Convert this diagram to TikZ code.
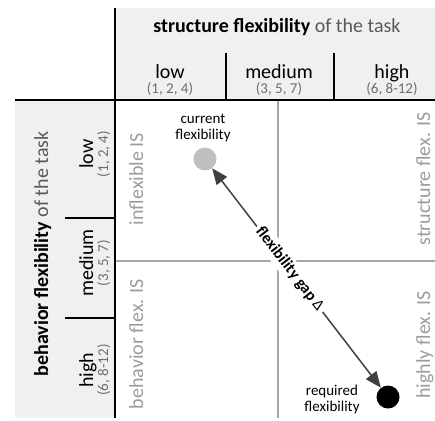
\documentclass[tikz,border=0pt]{standalone}
\usepackage{fontspec}
\setmainfont{Carlito}
\usepackage{tikz}
\usetikzlibrary{arrows.meta}
\definecolor{headbg}{HTML}{F0F0F0}
\definecolor{gridgray}{HTML}{A6A6A6}
\definecolor{labelgray}{HTML}{9C9C9C}
\definecolor{subgray}{HTML}{595959}
\definecolor{numgray}{HTML}{6E6E6E}
\definecolor{arrowgray}{HTML}{404040}
\definecolor{dotgray}{HTML}{BFBFBF}
\tikzstyle{divline} = [line width=1.5pt,black]
\tikzstyle{gridline} = [line width=1.3pt,gridgray]
\tikzstyle{bigtext} = [inner sep=0pt,anchor=base,font=\fontsize{20}{24}\selectfont]
\tikzstyle{numtext} = [inner sep=0pt,anchor=base,text=numgray,font=\fontsize{15}{18}\selectfont]
\tikzstyle{celltext} = [inner sep=0pt,anchor=base,rotate=90,text=labelgray,font=\fontsize{20}{24}\selectfont]
\tikzstyle{smalltext} = [align=center,inner sep=0pt,font=\fontsize{15}{16}\selectfont]
\tikzstyle{dot} = [circle,minimum size=23pt,inner sep=0pt]
\tikzstyle{gaparrow} = [line width=1.5pt,arrowgray,{Triangle[length=16pt,width=13pt]}-{Triangle[length=16pt,width=13pt]}]

\begin{document}
\begin{tikzpicture}[x=1pt,y=-1pt]
\useasboundingbox (0,0) rectangle (435,420);

% header backgrounds
\fill[headbg] (115,8) rectangle (435,100);
\fill[headbg] (15,100) rectangle (115,418);

% inner grid
\draw[gridline] (278,100) -- (278,418);
\draw[gridline] (115,261) -- (435,261);

% table frame
\draw[divline] (115,8) -- (115,418);
\draw[divline] (15,100) -- (435,100);
\foreach \x in {226,334}
{
 \draw[divline] (\x,53) -- (\x,100);
}
\foreach \y in {218,318}
{
 \draw[divline] (65,\y) -- (115,\y);
}

% titles
\node[bigtext] (stitle) at (277,33) {\textbf{structure flexibility} \textcolor{subgray}{of the task}};
\node[bigtext,rotate=90] (btitle) at (48,254) {\textbf{behavior flexibility} \textcolor{subgray}{of the task}};

% column and row heads
\foreach \name/\nums/\x in {low/{(1, 2, 4)}/170,medium/{(3, 5, 7)}/279,high/{(6, 8-12)}/392}
{
 \node[bigtext] (col\name) at (\x,78) {\name};
 \node[numtext] (colnum\name) at (\x,93) {\nums};
}
\foreach \name/\nums/\y in {low/{(1, 2, 4)}/154,medium/{(3, 5, 7)}/263,high/{(6, 8-12)}/370}
{
 \node[bigtext,rotate=90] (row\name) at (93,\y) {\name};
 \node[numtext,rotate=90] (rownum\name) at (108,\y) {\nums};
}

% cell labels
\node[celltext] (inflex) at (143,179) {inflexible IS};
\node[celltext] (behflex) at (143,344) {behavior flex. IS};
\node[celltext] (strflex) at (430,179) {structure flex. IS};
\node[celltext] (highflex) at (430,345) {highly flex. IS};

% current and required flexibility
\node[dot,fill=dotgray] (cur) at (205,159) {};
\node[dot,fill=black] (req) at (388,397) {};
\node[smalltext] (curtext) at (203,128) {current\\flexibility};
\node[smalltext] (reqtext) at (332,399) {required\\flexibility};

% flexibility gap
\draw[gaparrow] (req) -- (cur)
 node[pos=0.54,sloped,fill=white,inner sep=3pt,text=black,font=\bfseries\fontsize{16}{18}\selectfont] (gaplabel) {flexibility gap \textmd{Δ}};

\end{tikzpicture}
\end{document}
